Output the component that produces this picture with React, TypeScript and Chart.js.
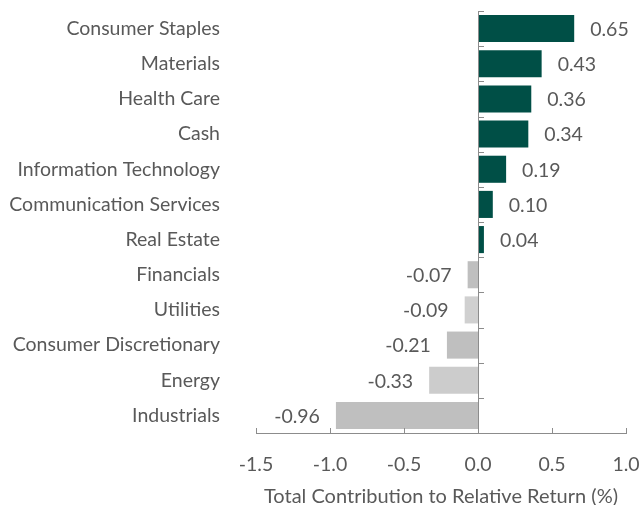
import React, { useEffect, useRef } from "react";
import { Chart, registerables } from "chart.js";

Chart.register(...registerables);

const categories = [
  "Consumer Staples",
  "Materials",
  "Health Care",
  "Cash",
  "Information Technology",
  "Communication Services",
  "Real Estate",
  "Financials",
  "Utilities",
  "Consumer Discretionary",
  "Energy",
  "Industrials",
];
const values = [0.65, 0.43, 0.36, 0.34, 0.19, 0.1, 0.04, -0.07, -0.09, -0.21, -0.33, -0.96];
const barColors = [
  "#004F46", "#004F46", "#004F46", "#004F46", "#004F46", "#004F46", "#004F46",
  "#BFBFBF", "#D0D0D0", "#BFBFBF", "#CCCCCC", "#BFBFBF",
];
const xTicks = [-1.5, -1.0, -0.5, 0.0, 0.5, 1.0];
const axisTitle = "Total Contribution to Relative Return (%)";

const FONT = "Lato, 'Open Sans', sans-serif";
const FS = 19.5;
const TEXT = "#595959";
const AXIS = "#8C8C8C";

const decorPlugin = {
  id: "decor",
  afterDatasetsDraw(chart: any) {
    const { ctx, chartArea, scales } = chart;
    const x = scales.x;
    const y = scales.y;
    const x0 = x.getPixelForValue(0);
    ctx.save();
    ctx.strokeStyle = AXIS;
    ctx.lineWidth = 1;
    ctx.beginPath();
    ctx.moveTo(Math.round(x0) + 0.5, chartArea.top);
    ctx.lineTo(Math.round(x0) + 0.5, chartArea.bottom);
    ctx.stroke();
    const n = categories.length;
    const step = y.getPixelForValue(1) - y.getPixelForValue(0);
    for (let i = 0; i <= n; i++) {
      const py = i < n ? y.getPixelForValue(i) - step / 2 : chartArea.bottom;
      ctx.beginPath();
      ctx.moveTo(Math.round(x0), Math.round(py) + 0.5);
      ctx.lineTo(Math.round(x0) + 6, Math.round(py) + 0.5);
      ctx.stroke();
    }
    xTicks.forEach((v) => {
      const px = Math.round(x.getPixelForValue(v)) + 0.5;
      ctx.beginPath();
      ctx.moveTo(px, chartArea.bottom);
      ctx.lineTo(px, chartArea.bottom - 5);
      ctx.stroke();
    });
    ctx.fillStyle = TEXT;
    ctx.font = `${FS}px ${FONT}`;
    ctx.textBaseline = "middle";
    const meta = chart.getDatasetMeta(0);
    meta.data.forEach((bar: any, i: number) => {
      const v = values[i];
      const txt = v.toFixed(2);
      if (v >= 0) {
        ctx.textAlign = "left";
        ctx.fillText(txt, bar.x + 16, bar.y + 1);
      } else {
        ctx.textAlign = "right";
        ctx.fillText(txt, bar.x - 16, bar.y + 1);
      }
    });
    ctx.restore();
  },
};

export default function App() {
  const ref = useRef<HTMLCanvasElement>(null);
  useEffect(() => {
    document.body.style.margin = "0";
    const chart = new Chart(ref.current!, {
      type: "bar",
      data: {
        labels: categories,
        datasets: [
          {
            data: values,
            backgroundColor: barColors,
            borderWidth: 0,
            categoryPercentage: 1,
            barPercentage: 0.77,
          },
        ],
      },
      options: {
        indexAxis: "y",
        animation: false,
        responsive: false,
        layout: { padding: { top: 11, right: 14, bottom: 0, left: 0 } },
        plugins: { legend: { display: false }, tooltip: { enabled: false } },
        scales: {
          x: {
            type: "linear",
            min: -1.5,
            max: 1.0,
            afterBuildTicks: (scale: any) => {
              scale.ticks = xTicks.map((v) => ({ value: v }));
            },
            afterFit: (scale: any) => {
              scale.height = 72;
              scale.paddingLeft = 0;
              scale.paddingRight = 0;
            },
            grid: { display: false, drawTicks: false },
            border: { display: true, color: AXIS, width: 1 },
            ticks: {
              padding: 20,
              color: TEXT,
              font: { family: FONT, size: FS },
              callback: (v: any) => Number(v).toFixed(1),
            },
            title: {
              display: true,
              text: axisTitle,
              color: TEXT,
              font: { family: FONT, size: 20, lineHeight: 1.0 },
              padding: { top: 4, bottom: -2 },
            },
          },
          y: {
            type: "category",
            afterFit: (scale: any) => {
              scale.width = 256;
              scale.paddingTop = 0;
              scale.paddingBottom = 0;
            },
            grid: { display: false, drawTicks: false },
            border: { display: false },
            ticks: {
              padding: 36,
              color: TEXT,
              font: { family: FONT, size: FS },
            },
          },
        },
      },
      plugins: [decorPlugin],
    } as any);
    return () => chart.destroy();
  }, []);
  return (
    <div style={{ width: 640, height: 505 }}>
      <canvas ref={ref} width={640} height={505} style={{ width: 640, height: 505, display: "block" }} />
    </div>
  );
}
